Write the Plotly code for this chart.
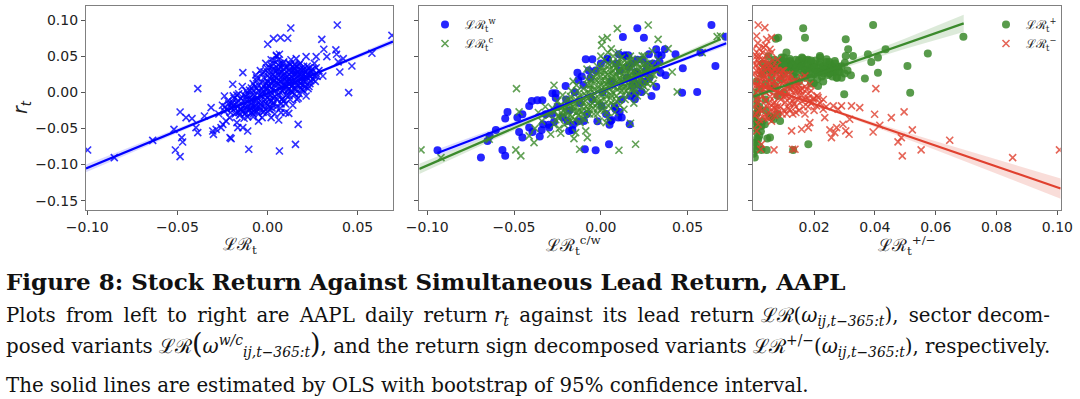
import plotly.graph_objects as go

# ---------------- data ----------------
# Panel 1: r_t vs LR_t  (blue x)
p1_outliers = [(-0.0998,-0.0799),(-0.0850,-0.0905),(-0.0637,-0.0665),(-0.0511,-0.0799),(-0.0485,-0.0891),
    (-0.0471,-0.0688),(-0.0476,-0.0628),(-0.0519,-0.0513),(-0.0485,-0.0273),(-0.0452,-0.0351),(-0.0419,-0.0365),
    (-0.0387,0.0050),(-0.0397,-0.0490),(-0.0387,-0.0559),(-0.0350,-0.0328),(-0.0313,-0.0213),(-0.0304,-0.0536),
    (-0.0300,-0.0582),(-0.0285,-0.0513),(-0.0258,-0.0490),(-0.0248,-0.0444),(-0.0208,-0.0628),(-0.0202,-0.0642),
    (-0.0239,-0.0051),(-0.0193,0.0111),(-0.0165,-0.0490),(-0.0137,-0.0490),(-0.0110,-0.0536),(-0.0104,-0.0789),
    (-0.0137,0.0272),(-0.0146,-0.0236),(0.0001,0.0664),(0.0033,0.0742),(0.0072,0.0756),(0.0112,0.0747),
    (0.0129,0.0890),(0.0049,0.0512),(0.0066,0.0526),(0.0020,-0.0351),(0.0062,-0.0383),(0.0075,-0.0282),
    (0.0066,-0.0812),(0.0118,-0.0291),(0.0170,-0.0444),(0.0155,-0.0720),(0.0162,-0.0097),(0.0214,-0.0051),
    (0.0159,0.0466),(0.0214,0.0494),(0.0270,0.0494),(0.0301,0.0733),(0.0312,0.0595),(0.0329,0.0494),
    (0.0307,0.0226),(0.0262,0.0226),(0.0379,0.0586),(0.0383,0.0526),(0.0387,0.0931),(0.0392,0.0420),
    (0.0401,0.0281),(0.0420,0.0466),(0.0468,0.0364),(0.0450,-0.0005),(0.0579,0.0540),(0.0690,0.0788)]
p1_cluster = [(-0.027,-0.030),(-0.025,-0.018),(-0.024,-0.026),(-0.022,-0.012),(-0.021,-0.035),(-0.020,-0.022),
    (-0.019,-0.005),(-0.023,-0.040),(-0.018,-0.030),(-0.017,-0.015),(-0.016,-0.002),(-0.015,-0.024),(-0.014,0.008),
    (-0.013,-0.036),(-0.012,-0.010),(-0.011,-0.020),(-0.010,0.003),(-0.017,-0.042),(-0.015,-0.008),(-0.012,-0.028),
    (-0.009,-0.015),(-0.008,0.012),(-0.008,-0.030),(-0.007,-0.005),(-0.006,0.020),(-0.006,-0.022),(-0.005,0.002),
    (-0.004,-0.012),(-0.004,0.030),(-0.003,-0.035),(-0.002,0.008),(-0.002,-0.020),(-0.001,0.040),(-0.001,-0.004),
    (0.000,0.015),(0.000,-0.027),(-0.009,0.006),(-0.005,-0.040),(0.001,0.025),(0.001,-0.010),(0.002,0.045),
    (0.002,0.000),(0.003,-0.018),(0.003,0.032),(0.004,0.010),(0.004,-0.030),(0.005,0.020),(0.005,0.050),
    (0.006,-0.005),(0.006,0.038),(0.007,0.015),(0.007,-0.022),(0.008,0.028),(0.008,0.002),(0.009,0.042),
    (0.009,-0.012),(0.010,0.020),(0.010,-0.028),(0.011,0.008),(0.011,0.035),(0.012,0.025),(0.012,-0.005),
    (0.013,0.045),(0.013,0.015),(0.014,0.030),(0.014,-0.018),(0.015,0.005),(0.015,0.038),(0.016,0.020),
    (0.017,0.028),(0.017,-0.008),(0.018,0.012),(0.018,0.040),(0.019,0.022),(0.020,0.032),(0.020,0.002),
    (0.021,0.015),(0.022,0.036),(0.022,0.025),(0.023,0.008),(0.024,0.030),(0.025,0.018),(0.026,0.040),
    (0.027,0.026),(-0.006,0.005),(-0.003,0.000),(0.000,0.005),(0.002,0.012),(0.004,0.022),(0.006,0.012),
    (0.008,0.018),(0.010,0.010),(0.003,-0.008),(-0.001,-0.015),(-0.004,-0.022),(-0.007,-0.012),(-0.010,-0.008),
    (-0.013,-0.018),(0.012,0.018),(0.014,0.010),(0.016,0.030),(0.019,0.030),(0.005,0.030),(0.001,0.020),
    (-0.002,0.020),(-0.008,-0.020),(-0.011,-0.002),(0.007,0.005),(0.009,0.032),(0.011,0.022),(0.015,0.025),
    (0.018,0.025),(0.021,0.028),(0.024,0.022),(0.000,-0.008),(-0.005,-0.030),(-0.016,-0.012),(-0.019,-0.018),
    (0.003,0.040),(0.006,0.045),(-0.003,0.025),(0.013,0.002),(0.016,0.010),(0.020,0.015)]
p1_core = [(-0.0225,-0.024),(-0.0215,-0.016),(-0.0205,-0.028),(-0.0235,-0.020),(-0.0175,-0.028),(-0.0165,-0.020),
    (-0.0185,-0.008),(-0.0155,-0.032),(-0.0170,-0.004),(-0.0125,-0.030),(-0.0115,-0.024),(-0.0135,-0.012),
    (-0.0105,-0.016),(-0.0120,0.002),(-0.0110,-0.034),(-0.0075,-0.026),(-0.0065,-0.018),(-0.0085,-0.004),
    (-0.0055,-0.008),(-0.0070,0.008),(-0.0060,0.016),(-0.0080,-0.034),(-0.0065,0.024),(-0.0025,-0.028),
    (-0.0015,-0.010),(-0.0030,0.004),(-0.0010,0.012),(-0.0020,0.028),(-0.0005,0.034),(-0.0035,-0.018),
    (-0.0015,0.000),(0.0025,-0.022),(0.0035,-0.014),(0.0020,0.006),(0.0040,0.016),(0.0030,0.024),(0.0025,0.036),
    (0.0035,0.044),(0.0045,0.002),(0.0015,-0.004),(0.0075,-0.016),(0.0085,-0.008),(0.0070,0.000),(0.0090,0.010),
    (0.0080,0.022),(0.0075,0.034),(0.0085,0.040),(0.0095,0.026),(0.0125,-0.010),(0.0135,0.000),(0.0120,0.012),
    (0.0140,0.020),(0.0130,0.028),(0.0125,0.038),(0.0145,0.034),(0.0115,0.004),(0.0175,-0.002),(0.0185,0.006),
    (0.0170,0.016),(0.0190,0.020),(0.0180,0.032),(0.0175,0.038),(0.0195,0.010),(0.0225,0.005),(0.0235,0.012),
    (0.0220,0.020),(0.0240,0.028),(0.0230,0.034),(0.0265,0.015),(0.0275,0.022),(0.0285,0.030),(0.0270,0.034),
    (-0.0045,-0.004),(-0.0095,-0.022),(0.0055,-0.010),(0.0065,0.028),(0.0105,0.016),(0.0105,-0.004),
    (0.0155,0.014),(0.0160,0.026),(-0.0140,-0.026),(-0.0195,-0.014),(0.0005,0.010),(0.0010,-0.020)]
p1_core2 = [(-0.014,-0.020),(-0.012,-0.006),(-0.010,-0.024),(-0.009,-0.010),(-0.008,0.002),(-0.007,-0.020),
    (-0.006,-0.012),(-0.005,0.010),(-0.004,-0.016),(-0.003,0.014),(-0.003,-0.006),(-0.002,-0.026),(-0.001,0.004),
    (0.000,-0.018),(0.000,0.028),(0.001,0.008),(0.001,0.034),(0.002,-0.012),(0.002,0.018),(0.003,0.004),
    (0.004,0.030),(0.004,-0.006),(0.005,0.014),(0.005,-0.020),(0.006,0.024),(0.006,0.032),(0.007,0.008),
    (0.007,0.040),(0.008,-0.010),(0.008,0.014),(0.009,0.004),(0.009,0.024),(0.010,0.034),(0.010,-0.016),
    (0.011,0.014),(0.011,0.002),(0.012,0.030),(0.012,0.040),(0.013,0.008),(0.013,0.022),(0.014,0.036),
    (0.014,0.016),(0.015,-0.002),(0.015,0.030),(0.016,0.004),(0.016,0.036),(0.017,0.022),(0.017,0.010),
    (0.018,0.018),(0.019,0.026),(0.019,0.004),(0.020,0.036),(0.021,0.022),(0.021,0.008),(0.022,0.030),
    (0.023,0.024),(0.024,0.016),(0.025,0.032),(-0.016,-0.028),(-0.018,-0.022),(-0.020,-0.016),(-0.013,-0.004),
    (-0.009,-0.028),(0.003,0.016),(0.001,-0.024),(-0.006,-0.026)]

# Panel 2: LR^w (blue dots) and LR^c (green x)
p2_w_pts = [(-0.0941,-0.0802),(-0.0691,-0.0904),(-0.0653,-0.0673),(-0.0640,-0.0604),(-0.0605,-0.0521),
    (-0.0567,-0.0797),(-0.0551,-0.0880),(-0.0551,-0.0364),(-0.0538,-0.0272),(-0.0481,-0.0350),(-0.0471,-0.0549),
    (-0.0452,-0.0627),(-0.0452,-0.0304),(-0.0413,-0.0189),(-0.0398,-0.0120),(-0.0413,-0.0489),(-0.0394,-0.0549),
    (-0.0366,-0.0111),(-0.0352,-0.0613),(-0.0337,-0.0111),(-0.0333,-0.0443),(-0.0341,-0.0521),(-0.0318,-0.0304),
    (-0.0298,-0.0489),(-0.0270,-0.0410),(-0.0279,-0.0014),(-0.0260,-0.0014),(-0.0203,0.0088),(-0.0193,-0.0396),
    (-0.0183,-0.0535),(-0.0164,-0.0521),(-0.0135,0.0272),(-0.0130,0.0171),(-0.0097,-0.0396),(-0.0092,-0.0788),
    (-0.0030,-0.0802),(-0.0049,0.0456),(0.0004,-0.0189),(0.0047,-0.0719),(0.0062,-0.0383),(0.0037,0.0466),
    (0.0104,0.0526),(0.0127,0.0765),(0.0108,-0.0272),(0.0120,-0.0350),(0.0056,-0.0396),(0.0166,-0.0442),
    (0.0139,0.0512),(0.0158,0.0512),(0.0210,0.0885),(0.0196,-0.0097),(0.0196,-0.0014),(0.0235,0.0005),
    (0.0248,0.0756),(0.0277,0.0526),(0.0292,-0.0051),(0.0319,0.0078),(0.0315,0.0327),(0.0330,0.0512),
    (0.0319,0.0595),(0.0369,0.0595),(0.0350,0.0512),(0.0373,0.0235),(0.0344,0.0272),(0.0338,0.0420),
    (0.0430,0.0526),(0.0472,0.0332),(0.0468,-0.0005),(0.0555,0.0005),(0.0574,0.0549),(0.0637,0.0931),
    (0.0660,0.0364),(0.0718,0.0770),(-0.0087,0.0456),(0.0181,0.0088),(0.0210,0.0272),(0.0085,-0.0235),
    (-0.028,-0.030),(-0.025,-0.020),(-0.022,-0.035),(-0.020,-0.010),(-0.018,-0.025),(-0.015,0.000),
    (-0.013,-0.040),(-0.012,-0.015),(-0.010,0.010),(-0.008,-0.030),(-0.006,0.020),(-0.005,-0.010),
    (-0.003,0.030),(-0.002,-0.040),(0.000,0.040),(0.001,0.000),(0.003,-0.030),(0.004,0.045),(0.006,0.015),
    (0.008,-0.020),(0.009,0.040),(0.011,0.030),(0.012,-0.010),(0.014,0.050),(0.015,0.020),(0.017,-0.005),
    (0.018,0.040),(0.020,0.028),(0.022,0.010),(0.024,0.045),(0.026,0.030),(0.028,0.020),(0.030,0.040),
    (-0.030,-0.045),(-0.026,-0.008),(-0.016,-0.045),(0.005,-0.045),(0.010,-0.035),(0.016,0.035),
    (0.019,0.015),(0.021,0.045),(0.025,0.015),(0.027,0.038),(-0.007,0.030),(-0.011,0.022)]
p2_c_pts = [(-0.1036,-0.0797),(-0.0921,-0.0904),(-0.0643,-0.0650),(-0.0486,0.0051),(-0.0490,-0.0797),
    (-0.0461,-0.0880),(-0.0385,-0.0696),(-0.0413,-0.0604),(-0.0471,-0.0272),(-0.0270,0.0097),(-0.0231,-0.0567),
    (-0.0289,-0.0581),(-0.0145,-0.0558),(-0.0155,-0.0641),(-0.0087,-0.0535),(-0.0078,-0.0627),(-0.0122,-0.0788),
    (0.0008,0.0733),(0.0037,0.0756),(0.0004,0.0650),(0.0095,0.0881),(0.0273,0.0931),(0.0330,0.0733),
    (0.0200,-0.0719),(0.0104,-0.0802),(0.0171,-0.0429),(0.0238,0.0503),(0.0296,0.0572),(0.0388,0.0604),
    (0.0411,0.0281),(0.0440,0.0005),(0.0584,0.0549),(0.0670,0.0770),(0.0689,0.0779),(0.0133,-0.0235),
    (-0.0174,-0.0396),(-0.0222,-0.0327),
    (-0.030,-0.032),(-0.028,-0.022),(-0.026,-0.038),(-0.025,-0.012),(-0.023,-0.028),(-0.022,-0.004),
    (-0.020,-0.020),(-0.019,-0.035),(-0.018,-0.010),(-0.017,0.002),(-0.016,-0.026),(-0.015,-0.016),
    (-0.014,0.010),(-0.013,-0.032),(-0.012,-0.005),(-0.011,-0.020),(-0.010,0.005),(-0.009,-0.012),
    (-0.009,-0.038),(-0.008,0.018),(-0.007,-0.024),(-0.007,0.000),(-0.006,0.010),(-0.005,-0.015),
    (-0.005,0.028),(-0.004,-0.030),(-0.004,0.004),(-0.003,0.018),(-0.003,-0.008),(-0.002,0.036),
    (-0.002,-0.022),(-0.001,0.008),(-0.001,-0.040),(0.000,0.022),(0.000,-0.012),(0.001,0.030),(0.001,0.000),
    (0.002,-0.025),(0.002,0.045),(0.003,0.012),(0.003,-0.005),(0.004,0.025),(0.004,-0.035),(0.005,0.038),
    (0.005,0.005),(0.006,-0.015),(0.006,0.018),(0.007,0.050),(0.007,0.030),(0.008,0.008),(0.008,-0.028),
    (0.009,0.022),(0.009,-0.005),(0.010,0.040),(0.010,0.012),(0.011,-0.018),(0.011,0.028),(0.012,0.002),
    (0.012,0.048),(0.013,0.018),(0.013,0.035),(0.014,-0.010),(0.014,0.008),(0.015,0.025),(0.015,0.042),
    (0.016,0.012),(0.016,-0.002),(0.017,0.032),(0.018,0.020),(0.018,0.005),(0.019,0.040),(0.020,0.012),
    (0.020,0.028),(0.021,-0.005),(0.022,0.035),(0.022,0.018),(0.023,0.045),(0.024,0.025),(0.025,0.008),
    (0.026,0.032),(0.027,0.018),(0.028,0.040),(0.029,0.025),(0.030,0.012),(0.032,0.030),(-0.021,-0.045),
    (-0.024,-0.050),(-0.027,-0.045),(-0.012,-0.042),(-0.016,0.015),(-0.008,0.032),(0.003,-0.042),
    (0.006,0.060),(0.010,0.055),(0.017,0.050),(-0.032,-0.020),(-0.034,-0.040),(-0.036,-0.028),
    (-0.038,-0.050),(0.000,0.050),(0.004,0.055),(0.025,0.050),(0.033,0.045),(-0.010,-0.030),
    (0.019,-0.015),(0.026,0.000)]
p2_c_core = [(-0.0265,-0.027),(-0.0245,-0.033),(-0.0235,-0.018),(-0.0215,-0.026),(-0.0205,-0.012),(-0.0195,-0.030),
    (-0.0185,-0.018),(-0.0175,-0.006),(-0.0165,-0.034),(-0.0155,-0.022),(-0.0145,-0.010),(-0.0135,0.002),
    (-0.0125,-0.026),(-0.0115,-0.012),(-0.0105,-0.036),(-0.0095,-0.002),(-0.0085,-0.020),(-0.0075,0.010),
    (-0.0065,-0.030),(-0.0060,-0.006),(-0.0055,0.018),(-0.0045,-0.022),(-0.0040,0.012),(-0.0035,-0.002),
    (-0.0025,0.026),(-0.0020,-0.030),(-0.0015,-0.014),(-0.0005,0.016),(0.0005,-0.004),(0.0005,0.036),
    (0.0015,-0.018),(0.0020,0.008),(0.0025,0.022),(0.0035,-0.028),(0.0040,0.040),(0.0045,0.014),(0.0055,-0.008),
    (0.0060,0.026),(0.0065,0.000),(0.0070,0.042),(0.0075,-0.018),(0.0080,0.016),(0.0085,0.034),(0.0095,0.004),
    (0.0100,0.028),(0.0105,-0.010),(0.0110,0.046),(0.0115,0.018),(0.0125,0.036),(0.0130,0.008),(0.0135,0.026),
    (0.0145,0.002),(0.0150,0.034),(0.0155,0.018),(0.0165,0.044),(0.0170,0.008),(0.0175,0.026),(0.0185,0.036),
    (0.0190,0.016),(0.0195,0.000),(0.0205,0.022),(0.0210,0.040),(0.0215,0.010),(0.0225,0.028),(0.0235,0.020),
    (0.0245,0.038),(0.0255,0.014),(0.0265,0.026),(0.0275,0.034),(0.0285,0.016),(0.0295,0.036),(0.0305,0.024)]
p2_c_core2 = [(-0.022,-0.020),(-0.020,-0.026),(-0.018,-0.014),(-0.016,-0.020),(-0.014,-0.028),(-0.013,-0.008),
    (-0.011,-0.026),(-0.010,-0.014),(-0.008,-0.006),(-0.008,-0.026),(-0.006,-0.018),(-0.006,0.004),(-0.004,-0.010),
    (-0.004,0.020),(-0.002,0.002),(-0.002,-0.016),(-0.001,0.028),(0.000,0.010),(0.000,-0.024),(0.001,0.016),
    (0.002,-0.010),(0.002,0.030),(0.003,0.002),(0.004,0.018),(0.004,-0.018),(0.005,0.032),(0.005,0.010),
    (0.006,-0.004),(0.007,0.022),(0.007,0.008),(0.008,0.038),(0.009,0.014),(0.009,-0.012),(0.010,0.030),
    (0.011,0.006),(0.011,0.020),(0.012,0.040),(0.013,0.012),(0.013,-0.004),(0.014,0.030),(0.015,0.018),
    (0.016,0.006),(0.016,0.038),(0.017,0.024),(0.018,0.012),(0.019,0.030),(0.020,0.004),(0.021,0.026),
    (0.022,0.014),(0.023,0.034),(0.024,0.010),(0.025,0.024),(0.026,0.040),(0.027,0.012),(0.028,0.030),
    (-0.024,-0.036),(-0.019,-0.042),(-0.015,-0.038),(0.018,0.046),(0.022,0.044)]

# Panel 3: LR^+ (green dots) and LR^- (red x)
p3_pos_pts = [(0.0164,0.0885),(0.0170,0.0756),(0.0394,0.0931),(0.0691,0.0770),(0.0304,0.0733),(0.0312,0.0595),
    (0.0328,0.0503),(0.0304,0.0503),(0.0301,0.0410),(0.0377,0.0526),(0.0388,0.0420),(0.0410,0.0480),
    (0.0435,0.0595),(0.0574,0.0535),(0.0507,0.0364),(0.0410,0.0272),(0.0367,0.0189),(0.0321,0.0235),
    (0.0516,-0.0005),(0.0299,-0.0028),(0.0181,-0.0719),(0.0131,-0.0797),(0.0044,-0.0797),(0.0027,-0.0797),
    (0.0046,-0.0641),(0.0055,-0.0627),(0.0005,-0.0904),(0.0082,0.0756),(0.0074,0.0742),(0.0219,0.0503),
    (0.0162,0.0466),(0.0268,0.0434),(0.0263,0.0342),(0.0274,0.0203),(0.0252,0.0272),(0.0213,0.0088),
    (0.0199,0.0125),(0.0175,0.0272),(0.0142,0.0203),(0.0120,0.0434),(0.0093,0.0480),(0.0109,0.0549),
    (0.0066,-0.0373),(0.0027,-0.0466),(0.0011,-0.0558),(0.0005,-0.0742),(0.0016,-0.0650),(0.0009,-0.0189),
    (0.0013,-0.0281),(0.0003,-0.0396),(0.0038,-0.0443),(0.0053,-0.0327),(0.0088,-0.0396),(0.0077,0.0318),
    (0.0055,0.0388),(0.0131,0.0342),(0.0153,0.0364),(0.0186,0.0342),(0.0230,0.0318),(0.0252,0.0388),
    (0.0241,0.0457),
    (0.002,0.005),(0.004,0.012),(0.006,0.020),(0.008,0.030),(0.010,0.025),(0.012,0.035),(0.014,0.028),
    (0.016,0.040),(0.018,0.032),(0.020,0.025),(0.022,0.038),(0.024,0.030),(0.026,0.022),(0.028,0.035),
    (0.021,0.018),(0.019,0.012),(0.017,0.020),(0.015,0.015),(0.013,0.022),(0.011,0.042),(0.009,0.038),
    (0.007,0.045),(0.005,0.030),(0.003,0.025),(0.001,0.015),(0.023,0.015),(0.025,0.042),(0.027,0.028),
    (0.029,0.020),(0.031,0.030),(0.012,0.010),(0.010,0.000),(0.008,-0.005),(0.006,0.005),(0.004,-0.010),
    (0.002,-0.020),(0.001,-0.030),(0.003,-0.040),(0.001,-0.050),(0.002,-0.060),(0.000,-0.045),(0.004,-0.025),
    (0.006,-0.035),(0.008,-0.030),(0.001,-0.010),(0.000,0.000),(0.003,0.040),(0.005,0.050),(0.014,0.045),
    (0.018,0.045),(0.020,0.040),(0.022,0.028),(0.016,0.030),(0.024,0.036),(0.026,0.030),(0.012,0.030),
    (0.009,0.018),(0.007,0.010),(0.000,-0.070),(0.002,-0.075),(0.000,-0.085),(0.001,-0.065),
    (0.0085,0.036),(0.0105,0.032),(0.0125,0.040),(0.0135,0.030),(0.0155,0.036),(0.0165,0.026),(0.0175,0.038),
    (0.0185,0.028),(0.0195,0.036),(0.0205,0.030),(0.0215,0.034),(0.0225,0.022),(0.0235,0.032),(0.0245,0.024),
    (0.0255,0.034),(0.0265,0.028),(0.0275,0.020),(0.0285,0.028),(0.0115,0.036),(0.0145,0.040),(0.0065,0.040),
    (0.0095,0.044),(0.0175,0.044),(0.0205,0.044),(0.0005,-0.036),(0.0015,-0.044),(0.0025,-0.054),(0.0010,-0.080)]
p3_pos_band = [(0.0060,0.030),(0.0070,0.036),(0.0080,0.040),(0.0100,0.038),(0.0110,0.030),(0.0120,0.046),
    (0.0130,0.038),(0.0140,0.034),(0.0150,0.044),(0.0160,0.036),(0.0170,0.030),(0.0180,0.040),(0.0190,0.044),
    (0.0200,0.034),(0.0210,0.028),(0.0220,0.042),(0.0230,0.036),(0.0240,0.042),(0.0250,0.026),(0.0260,0.036),
    (0.0270,0.040),(0.0280,0.030),(0.0290,0.036),(0.0300,0.026),(0.0220,0.048),(0.0160,0.048),(0.0100,0.048),
    (0.0040,0.034),(0.0190,0.020),(0.0230,0.026)]
p3_neg_pts = [(0.0016,0.0931),(0.0038,0.0894),(0.0011,0.0779),(0.0044,0.0733),(0.0060,0.0756),(0.0055,0.0595),
    (0.1007,-0.0797),(0.0853,-0.0904),(0.0646,-0.0664),(0.0552,-0.0797),(0.0490,-0.0880),(0.0476,-0.0687),
    (0.0487,-0.0627),(0.0523,-0.0521),(0.0496,-0.0272),(0.0454,-0.0350),(0.0416,-0.0456),(0.0394,-0.0549),
    (0.0399,-0.0304),(0.0403,0.0051),(0.0350,-0.0212),(0.0323,-0.0189),(0.0317,-0.0373),(0.0315,-0.0581),
    (0.0304,-0.0535),(0.0295,-0.0443),(0.0274,-0.0489),(0.0268,-0.0558),(0.0257,-0.0627),(0.0252,-0.0521),
    (0.0235,-0.0350),(0.0263,-0.0189),(0.0279,-0.0235),(0.0290,-0.0189),(0.0230,-0.0235),(0.0213,-0.0074),
    (0.0197,-0.0097),(0.0186,0.0111),(0.0170,0.0226),(0.0137,-0.0788),(0.0129,-0.0788),(0.0068,-0.0797),
    (0.0024,-0.0788),(0.0126,-0.0535),(0.0159,-0.0512),(0.0181,-0.0489),(0.0186,-0.0420),(0.0016,-0.0443),
    (0.0011,-0.0535),(0.0027,-0.0719),(0.0208,-0.0189),
    (0.000,0.060),(0.001,0.050),(0.002,0.040),(0.003,0.055),(0.001,0.030),(0.002,0.020),(0.003,0.035),
    (0.004,0.045),(0.005,0.025),(0.006,0.035),(0.007,0.015),(0.008,0.030),(0.009,0.020),(0.010,0.005),
    (0.011,0.015),(0.012,0.025),(0.013,0.000),(0.014,0.010),(0.015,-0.005),(0.016,0.005),(0.017,-0.010),
    (0.018,-0.002),(0.019,-0.015),(0.020,-0.008),(0.000,0.010),(0.001,0.000),(0.002,-0.010),(0.003,0.010),
    (0.004,0.000),(0.005,-0.015),(0.006,0.005),(0.007,-0.005),(0.008,-0.020),(0.009,-0.010),(0.010,-0.025),
    (0.011,-0.005),(0.012,-0.015),(0.013,-0.030),(0.014,-0.020),(0.015,-0.025),(0.016,-0.012),(0.017,-0.030),
    (0.018,-0.020),(0.000,-0.020),(0.001,-0.030),(0.002,-0.038),(0.003,-0.025),(0.004,-0.035),(0.005,-0.028),
    (0.006,-0.040),(0.007,-0.032),(0.000,0.040),(0.001,0.020),(0.002,0.005),(0.003,-0.005),(0.004,0.020),
    (0.005,0.010),(0.006,0.020),(0.007,0.025),(0.008,0.010),(0.009,0.000),(0.010,0.015),(0.011,0.025),
    (0.012,0.005),(0.013,0.015),(0.014,0.002),(0.015,0.010),(0.016,0.020),(0.021,-0.005),(0.022,-0.015),
    (0.023,-0.010),(0.024,-0.020),(0.019,0.002),(0.020,-0.025),(0.000,-0.005),(0.001,0.010),(0.003,0.045),
    (0.002,0.060),(0.005,0.040),(0.004,0.065),(0.008,0.045),(0.006,0.055),
    (0.0005,0.052),(0.0015,0.044),(0.0025,0.030),(0.0035,0.022),(0.0045,0.032),(0.0055,0.016),(0.0065,0.028),
    (0.0075,0.008),(0.0085,0.022),(0.0095,0.012),(0.0105,-0.004),(0.0115,0.008),(0.0125,-0.006),(0.0135,0.006),
    (0.0145,-0.010),(0.0155,0.002),(0.0165,-0.020),(0.0175,0.004),(0.0185,-0.012),(0.0005,0.026),(0.0015,-0.016),
    (0.0025,-0.002),(0.0035,0.004),(0.0045,-0.020),(0.0055,-0.006),(0.0065,-0.016),(0.0075,-0.024),(0.0085,-0.002),
    (0.0095,-0.030),(0.0105,-0.014),(0.0115,-0.022),(0.0125,0.014),(0.0135,-0.016),(0.0005,-0.032),(0.0025,0.014),
    (0.0045,0.052),(0.0065,0.044),(0.0035,0.062),(0.0015,0.068),(0.0075,0.036),(0.0095,0.030),(0.0115,0.020)]
p3_neg_core = [(0.0010,0.038),(0.0020,0.050),(0.0030,0.028),(0.0040,0.040),(0.0050,0.034),(0.0060,0.028),
    (0.0070,0.032),(0.0080,0.018),(0.0090,0.028),(0.0100,0.022),(0.0110,0.006),(0.0120,0.018),(0.0130,0.008),
    (0.0140,0.016),(0.0150,0.004),(0.0160,-0.004),(0.0170,0.008),(0.0180,-0.008),(0.0010,-0.010),(0.0020,-0.024),
    (0.0030,-0.034),(0.0040,-0.012),(0.0050,-0.036),(0.0060,-0.024),(0.0070,-0.014),(0.0080,-0.030),(0.0090,-0.020),
    (0.0100,-0.006),(0.0110,-0.030),(0.0120,-0.024),(0.0130,-0.012),(0.0140,-0.028),(0.0020,0.030),(0.0040,0.008),
    (0.0060,0.012),(0.0080,0.002),(0.0100,0.030),(0.0030,0.020),(0.0050,0.002),(0.0070,-0.022)]

# OLS fits with 95% bootstrap bands (x, fit, lower, upper)
fit1_x = [-0.1007, -0.06, -0.03, 0.0, 0.03, 0.0696]
fit1_y = [-0.1053, -0.0634, -0.0325, -0.0016, 0.0293, 0.0701]
fit1_lo = [-0.1108, -0.0669, -0.0345, -0.0028, 0.0273, 0.0661]
fit1_hi = [-0.0998, -0.0599, -0.0305, -0.0004, 0.0313, 0.0741]

fit2w_x = [-0.0941, -0.05, -0.02, 0.0, 0.03, 0.0723]
fit2w_y = [-0.0840, -0.0437, -0.0164, 0.0019, 0.0293, 0.0679]
fit2w_lo = [-0.0890, -0.0467, -0.0179, 0.0007, 0.0273, 0.0639]
fit2w_hi = [-0.0790, -0.0407, -0.0149, 0.0031, 0.0313, 0.0719]

fit2c_x = [-0.1046, -0.06, -0.03, 0.0, 0.03, 0.0689]
fit2c_y = [-0.1060, -0.0599, -0.0288, 0.0022, 0.0332, 0.0735]
fit2c_lo = [-0.1130, -0.0639, -0.0308, 0.0010, 0.0312, 0.0695]
fit2c_hi = [-0.0990, -0.0559, -0.0268, 0.0034, 0.0352, 0.0775]

fit3p_x = [0.0, 0.01, 0.02, 0.035, 0.05, 0.0692]
fit3p_y = [-0.0060, 0.0087, 0.0233, 0.0453, 0.0673, 0.0954]
fit3p_lo = [-0.0100, 0.0067, 0.0213, 0.0413, 0.0603, 0.0834]
fit3p_hi = [-0.0020, 0.0107, 0.0253, 0.0493, 0.0743, 0.1074]

fit3n_x = [0.0, 0.01, 0.02, 0.04, 0.06, 0.08, 0.1011]
fit3n_y = [0.0127, -0.0017, -0.0162, -0.0450, -0.0739, -0.1027, -0.1332]
fit3n_lo = [0.0097, -0.0032, -0.0177, -0.0480, -0.0799, -0.1127, -0.1472]
fit3n_hi = [0.0157, -0.0002, -0.0147, -0.0420, -0.0679, -0.0927, -0.1192]

y_ticks = [0.10, 0.05, 0.00, -0.05, -0.10, -0.15]
y_tick_text = ["0.10", "0.05", "0.00", "\u22120.05", "\u22120.10", "\u22120.15"]
x12_ticks = [-0.10, -0.05, 0.00, 0.05]
x12_tick_text = ["\u22120.10", "\u22120.05", "0.00", "0.05"]
x3_ticks = [0.02, 0.04, 0.06, 0.08, 0.10]
x3_tick_text = ["0.02", "0.04", "0.06", "0.08", "0.10"]

# ---------------- styling ----------------
BLUE = "#0000ff"
GREEN = "#3b8a2c"
RED = "#e0402f"
W, H = 1080, 399
TOP, BOT = 6, 210
panels_px = [(86, 393), (419.3, 726.7), (753.3, 1060.7)]
ydom = [1 - BOT / H, 1 - TOP / H]

fig = go.Figure()

def xs(pts): return [p[0] for p in pts]
def ys(pts): return [p[1] for p in pts]

def add_band(x, lo, hi, color, xa, ya):
    fig.add_trace(go.Scatter(x=x, y=lo, mode="lines", line=dict(width=0), hoverinfo="skip",
                             showlegend=False, xaxis=xa, yaxis=ya))
    fig.add_trace(go.Scatter(x=x, y=hi, mode="lines", line=dict(width=0), fill="tonexty",
                             fillcolor=color, hoverinfo="skip", showlegend=False, xaxis=xa, yaxis=ya))

def add_fit(x, y, color, xa, ya):
    fig.add_trace(go.Scatter(x=x, y=y, mode="lines", line=dict(color=color, width=2.2),
                             showlegend=False, xaxis=xa, yaxis=ya, hoverinfo="skip"))

xmark = lambda c: dict(symbol="x-thin", size=7, color=c, line=dict(color=c, width=1.6), opacity=0.8)
dmark = lambda c: dict(symbol="circle", size=8, color=c, line=dict(width=0), opacity=0.85)

# Panel 1
p1_all = p1_outliers + p1_cluster + p1_core + p1_core2
fig.add_trace(go.Scatter(x=xs(p1_all), y=ys(p1_all), mode="markers",
                         marker=xmark(BLUE), showlegend=False, xaxis="x", yaxis="y"))
add_band(fit1_x, fit1_lo, fit1_hi, "rgba(0,0,255,0.15)", "x", "y")
add_fit(fit1_x, fit1_y, BLUE, "x", "y")

# Panel 2
p2_c_all = p2_c_pts + p2_c_core + p2_c_core2
fig.add_trace(go.Scatter(x=xs(p2_w_pts), y=ys(p2_w_pts), mode="markers", marker=dmark(BLUE),
                         name="\u2112\u211b<sub>t</sub><sup>w</sup>", legend="legend", xaxis="x2", yaxis="y2"))
fig.add_trace(go.Scatter(x=xs(p2_c_all), y=ys(p2_c_all), mode="markers", marker=xmark(GREEN),
                         name="\u2112\u211b<sub>t</sub><sup>c</sup>", legend="legend", xaxis="x2", yaxis="y2"))
add_band(fit2w_x, fit2w_lo, fit2w_hi, "rgba(0,0,255,0.15)", "x2", "y2")
add_band(fit2c_x, fit2c_lo, fit2c_hi, "rgba(59,138,44,0.18)", "x2", "y2")
add_fit(fit2w_x, fit2w_y, BLUE, "x2", "y2")
add_fit(fit2c_x, fit2c_y, GREEN, "x2", "y2")

# Panel 3
p3_pos_all = p3_pos_pts + p3_pos_band
p3_neg_all = p3_neg_pts + p3_neg_core
fig.add_trace(go.Scatter(x=xs(p3_pos_all), y=ys(p3_pos_all), mode="markers", marker=dmark(GREEN),
                         name="\u2112\u211b<sub>t</sub><sup>+</sup>", legend="legend2", xaxis="x3", yaxis="y3"))
fig.add_trace(go.Scatter(x=xs(p3_neg_all), y=ys(p3_neg_all), mode="markers", marker=xmark(RED),
                         name="\u2112\u211b<sub>t</sub><sup>\u2212</sup>", legend="legend2", xaxis="x3", yaxis="y3"))
add_band(fit3p_x, fit3p_lo, fit3p_hi, "rgba(59,138,44,0.18)", "x3", "y3")
add_band(fit3n_x, fit3n_lo, fit3n_hi, "rgba(224,64,47,0.18)", "x3", "y3")
add_fit(fit3p_x, fit3p_y, GREEN, "x3", "y3")
add_fit(fit3n_x, fit3n_y, RED, "x3", "y3")

tickfont = dict(family="DejaVu Sans", size=14, color="#222")
axis_common = dict(showgrid=False, zeroline=False, showline=True, mirror=True, linecolor="#808080",
                   linewidth=1.2, ticks="outside", ticklen=4, tickcolor="#555", tickfont=tickfont,
                   automargin=False)

xranges = [[-0.1007, 0.0696], [-0.1046, 0.0725], [0.0, 0.1011]]
xt = [(x12_ticks, x12_tick_text), (x12_ticks, x12_tick_text), (x3_ticks, x3_tick_text)]
titles = ["\u2112\u211b<sub>t</sub>", "\u2112\u211b<sub>t</sub><sup>c/w</sup>", "\u2112\u211b<sub>t</sub><sup>+/\u2212</sup>"]
for i, (l, r) in enumerate(panels_px):
    sfx = "" if i == 0 else str(i + 1)
    fig.update_layout(**{
        "xaxis" + sfx: dict(domain=[l / W, r / W], range=xranges[i], tickvals=xt[i][0], ticktext=xt[i][1],
                            anchor="y" + sfx, **axis_common),
        "yaxis" + sfx: dict(domain=ydom, range=[-0.1629, 0.1194], tickvals=y_ticks, ticktext=y_tick_text,
                            showticklabels=(i == 0), anchor="x" + sfx, **axis_common),
    })
    fig.add_annotation(text=titles[i], x=(l + r) / 2 / W, y=1 - 245 / H, xref="paper", yref="paper",
                       xanchor="center", yanchor="middle", showarrow=False,
                       font=dict(family="DejaVu Serif", size=17, color="#222"))
fig.add_annotation(text="<i>r</i><sub><i>t</i></sub>", x=21 / W, y=1 - 107 / H, xref="paper", yref="paper",
                   xanchor="center", yanchor="middle", showarrow=False, textangle=-90,
                   font=dict(family="DejaVu Sans", size=19, color="#222"))

legfont = dict(family="DejaVu Serif", size=12, color="#222")
fig.update_layout(
    width=W, height=H, margin=dict(l=0, r=0, t=0, b=0, autoexpand=False),
    paper_bgcolor="white", plot_bgcolor="white",
    legend=dict(x=425 / W, y=1 - 10 / H, xanchor="left", yanchor="top", bgcolor="rgba(0,0,0,0)",
                font=legfont, itemwidth=30, tracegroupgap=0, traceorder="normal"),
    legend2=dict(x=986 / W, y=1 - 10 / H, xanchor="left", yanchor="top", bgcolor="rgba(0,0,0,0)",
                 font=legfont, itemwidth=30, tracegroupgap=0, traceorder="normal"),
)

# ---------------- caption ----------------
SERIF = "DejaVu Serif"
T = "\u2009"  # thin space to justify like the typeset reference
cap_title = "<b>Figure 8: Stock Return Against Simultaneous Lead Return, AAPL</b>"
cap_l1 = ("Plots " + T + "from " + T + "left " + T + "to " + T + "right " + T + "are " + T + "AAPL " + T + "daily " + T +
          "return <i>r</i><sub><i>t</i></sub> " + T + "against " + T + "its " + T + "lead " + T + "return " +
          "\u2112\u211b(<i>\u03c9</i><sub><i>ij,t\u2212365:t</i></sub>), " + T + "sector decom-")
cap_l2 = ("posed variants \u2112\u211b<span style='font-size:27px'>(</span><i>\u03c9</i><sup><i>w/c</i></sup>"
          "<sub><i>ij,t\u2212365:t</i></sub><span style='font-size:27px'>)</span>, and the return sign decomposed "
          "variants \u2112\u211b<sup>+/\u2212</sup>(<i>\u03c9</i><sub><i>ij,t\u2212365:t</i></sub>), respectively.")
cap_l3 = "The solid lines are estimated by OLS with bootstrap of 95% confidence interval."
caps = [(cap_title, 281, 23), (cap_l1, 316, 19.8), (cap_l2, 344, 19.8), (cap_l3, 385, 19.8)]
for text, ypx, fs in caps:
    fig.add_annotation(text=text, x=4 / W, y=1 - ypx / H, xref="paper", yref="paper", xanchor="left",
                       yanchor="middle", showarrow=False, font=dict(family=SERIF, size=fs, color="#111"))

fig.write_html("out.html", config={"displayModeBar": False},
               post_script="document.body.style.margin='0';document.body.style.overflow='hidden';")
